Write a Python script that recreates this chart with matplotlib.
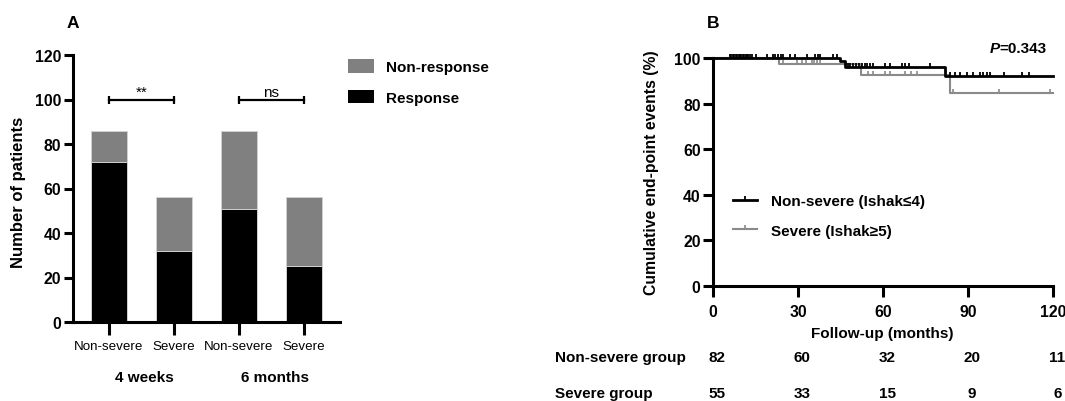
import numpy as np
import matplotlib
matplotlib.use("Agg")
import matplotlib.pyplot as plt
from matplotlib.patches import Patch
from matplotlib.lines import Line2D
import matplotlib.transforms as mtransforms

plt.rcParams['font.family'] = ['Liberation Sans', 'DejaVu Sans']

# ---------------- Data: panel A ----------------
bar_labels = ["Non-severe", "Severe", "Non-severe", "Severe"]
group_labels = ["4 weeks", "6 months"]
response = [72, 32, 51, 25]
non_response = [14, 24, 35, 31]
sig_labels = ["**", "ns"]
sig_pairs = [(0, 1), (2, 3)]
sig_level = 100

# ---------------- Data: panel B ----------------
ns_times = [0, 44.8, 46.6, 81.9, 120]
ns_surv = [100, 98.6, 96.2, 92.3, 92.3]
sv_times = [0, 23.4, 52.2, 83.7, 120]
sv_surv = [100, 97.4, 92.7, 84.5, 84.5]
ns_censor = [6, 6.5, 7, 7.5, 8, 8.5, 9, 9.5, 10, 10.5, 11, 11.5, 12, 12.5, 13, 13.7,
             15.2, 19, 21.2, 22, 23, 24, 24.8, 27.2, 29, 33, 36, 37, 37.8, 42.2, 43.6,
             47.5, 48.5, 49.5, 50.5, 51.5, 52.5, 53.5, 54.5, 55.5, 56.5, 60.7, 62.5,
             66.6, 67.8, 69, 76.6,
             83.7, 85.4, 87.2, 89.5, 91.7, 94.2, 95.4, 96.6, 97.8, 102.7, 109, 111.4]
sv_censor = [24.7, 29.5, 31.3, 32.8, 34.8, 35.8, 36.8, 37.8,
             54.7, 56.5, 60.7, 62.5, 67.8, 69.8, 71.9,
             84.8, 101, 119]
risk_times = [0, 30, 60, 90, 120]
risk_ns = [82, 60, 32, 20, 11]
risk_sv = [55, 33, 15, 9, 6]
p_text = "=0.343"

W, H = 1065, 402
fig = plt.figure(figsize=(W / 100, H / 100), dpi=100)

BLACK = "#000000"
GRAY = "#808080"
KMGRAY = "#8a8a8a"
SPW = 2.2
FS = 11
TFS = 11.3

# ================= Panel A =================
axA = fig.add_axes([73 / W, 1 - 323 / H, (340 - 73) / W, (323 - 56) / H])
x = np.arange(len(bar_labels))
axA.bar(x, response, width=0.54, color=BLACK, edgecolor="#d0d0d0", linewidth=0.7,
        label="Response", zorder=2)
axA.bar(x, non_response, bottom=response, width=0.54, color=GRAY, edgecolor="#d0d0d0",
        linewidth=0.7, label="Non-response", zorder=2)
axA.set_xlim(-0.554, 3.554)
axA.set_ylim(0, 120)
axA.set_yticks(np.arange(0, 121, 20))
axA.set_xticks(x)
axA.set_xticklabels(bar_labels, fontsize=9.6)
for t in axA.get_yticklabels():
    t.set_fontweight("bold")
    t.set_fontsize(TFS)
for s in ["top", "right"]:
    axA.spines[s].set_visible(False)
for s in ["left", "bottom"]:
    axA.spines[s].set_linewidth(SPW)
axA.tick_params(axis="y", length=6.5, width=SPW, pad=2)
axA.tick_params(axis="x", length=9, width=SPW, pad=4)
axA.set_ylabel("Number of patients", fontsize=12, fontweight="bold")
axA.yaxis.set_label_coords(-0.176, 0.49)

for (i, j), lab in zip(sig_pairs, sig_labels):
    axA.plot([x[i], x[j]], [sig_level, sig_level], color=BLACK, lw=1.6,
             marker="|", markersize=6, markeredgewidth=1.6, clip_on=False)
    axA.text((x[i] + x[j]) / 2, sig_level + 1.7, lab, ha="center", va="baseline",
             fontsize=FS)

trA = mtransforms.blended_transform_factory(axA.transData, axA.transAxes)
for k, g in enumerate(group_labels):
    cx = (x[2 * k] + x[2 * k + 1]) / 2 + 0.05
    axA.text(cx, -0.206, g, transform=trA, ha="center", va="center",
             fontsize=FS, fontweight="bold")

handlesA = [Patch(facecolor=GRAY, edgecolor="none", label="Non-response"),
            Patch(facecolor=BLACK, edgecolor="none", label="Response")]
fig.legend(handles=handlesA, loc="center left", bbox_to_anchor=(348 / W, 1 - 83 / H),
           frameon=False, prop={"weight": "bold", "size": FS},
           handlelength=1.7, handleheight=1.0, labelspacing=1.0,
           handletextpad=0.8, borderpad=0, borderaxespad=0)

fig.text(73 / W, 1 - 23 / H, "A", fontsize=12.5, fontweight="bold",
         ha="center", va="center")

# ================= Panel B =================
axB = fig.add_axes([713 / W, 1 - 287 / H, 340 / W, (287 - 59) / H])
axB.step(sv_times, sv_surv, where="post", color=KMGRAY, lw=1.5, clip_on=False,
         zorder=2)
axB.step(ns_times, ns_surv, where="post", color=BLACK, lw=2.0, clip_on=False,
         zorder=3)


def level_at(times, surv, tc):
    idx = np.searchsorted(times, tc, side="right") - 1
    return np.asarray(surv)[idx]


axB.plot(sv_censor, level_at(sv_times, sv_surv, sv_censor), linestyle="none",
         marker=2, markersize=3.2, markeredgewidth=1.2, color=KMGRAY,
         clip_on=False, zorder=2)
axB.plot(ns_censor, level_at(ns_times, ns_surv, ns_censor), linestyle="none",
         marker=2, markersize=3.2, markeredgewidth=1.3, color=BLACK,
         clip_on=False, zorder=3)

axB.set_xlim(0, 120)
axB.set_ylim(0, 100)
axB.set_xticks(risk_times)
axB.set_yticks(np.arange(0, 101, 20))
for t in axB.get_xticklabels() + axB.get_yticklabels():
    t.set_fontweight("bold")
    t.set_fontsize(TFS)
for s in ["top", "right"]:
    axB.spines[s].set_visible(False)
for s in ["left", "bottom"]:
    axB.spines[s].set_linewidth(SPW)
axB.tick_params(axis="y", length=7, width=SPW, pad=2)
axB.tick_params(axis="x", length=8, width=SPW, pad=5)
axB.set_ylabel("Cumulative end-point events (%)", fontsize=TFS, fontweight="bold")
axB.yaxis.set_label_coords(-0.159, 0.5)
axB.set_xlabel("Follow-up (months)", fontsize=FS, fontweight="bold")
axB.xaxis.set_label_coords(0.497, -0.175)

pt = axB.text(0.982, 1.044, p_text, transform=axB.transAxes, ha="right",
              va="center", fontsize=FS, fontweight="bold")
fig.canvas.draw()
bb = pt.get_window_extent()
fig.text(bb.x0 / W, 1 - 49 / H, "P", ha="right", va="center", fontsize=FS,
         fontweight="bold", style="italic")

handlesB = [Line2D([], [], color=BLACK, lw=2.0, marker=2, markersize=3.2,
                   markeredgewidth=1.3, label="Non-severe (Ishak≤4)"),
            Line2D([], [], color=KMGRAY, lw=1.5, marker=2, markersize=3.2,
                   markeredgewidth=1.2, label="Severe (Ishak≥5)")]
fig.legend(handles=handlesB, loc="center left", bbox_to_anchor=(733 / W, 1 - 217 / H),
           frameon=False, prop={"weight": "bold", "size": FS}, numpoints=1,
           handlelength=1.6, labelspacing=1.0, handletextpad=0.9,
           borderpad=0, borderaxespad=0)

fig.text(713 / W, 1 - 23 / H, "B", fontsize=12.5, fontweight="bold",
         ha="center", va="center")

trB = mtransforms.blended_transform_factory(axB.transData, fig.transFigure)
row_y = [1 - 358 / H, 1 - 394 / H]
fig.text(555 / W, row_y[0], "Non-severe group", ha="left", va="center",
         fontsize=FS, fontweight="bold")
fig.text(555 / W, row_y[1], "Severe group", ha="left", va="center",
         fontsize=FS, fontweight="bold")
for tx, a, b in zip(risk_times, risk_ns, risk_sv):
    axB.text(tx + 1.5, row_y[0], str(a), transform=trB, ha="center", va="center",
             fontsize=FS, fontweight="bold", clip_on=False)
    axB.text(tx + 1.5, row_y[1], str(b), transform=trB, ha="center", va="center",
             fontsize=FS, fontweight="bold", clip_on=False)

fig.savefig("out.png", dpi=100)
